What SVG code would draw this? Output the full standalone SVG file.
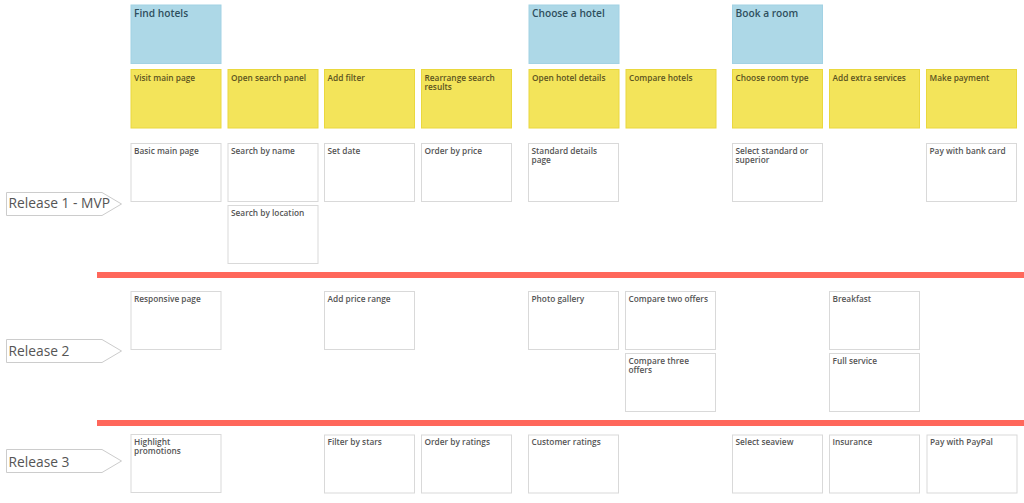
<svg xmlns="http://www.w3.org/2000/svg" width="1024" height="503" viewBox="0 0 1024 503">
<style>
.card{stroke-width:1}
.blue{fill:#add8e7;stroke:#a2d2e4}
.yellow{fill:#f3e45a;stroke:#ead83e}
.white{fill:#ffffff;stroke:#d9d9d9}
text{font-family:"Open Sans","Noto Sans","Liberation Sans",sans-serif}
.tb{font-size:10.2px;font-weight:600;fill:#2f4f5e}
.ty{font-size:8.3px;font-weight:600;fill:#5b5321}
.tw{font-size:8.3px;font-weight:600;fill:#555555}
.rel{fill:#ffffff;stroke:#cccccc;stroke-width:1}
.tr{font-size:13.8px;fill:#555555}
.sep{fill:#ff675b}
</style>
<rect width="1024" height="503" fill="#ffffff"/>
<g id="separators">
<rect class="sep" x="97" y="272" width="927" height="6"/>
<rect class="sep" x="97" y="420" width="927" height="6"/>
</g>
<g id="release1"><polygon class="rel" points="6.5,192.5 102,192.5 121.5,204 102,215.5 6.5,215.5"/><text class="tr" x="8.5" y="208">Release 1 - MVP</text></g>
<g id="release2"><polygon class="rel" points="6.5,339.5 102,339.5 121.5,351 102,362.5 6.5,362.5"/><text class="tr" x="8.5" y="356">Release 2</text></g>
<g id="release3"><polygon class="rel" points="6.5,449.5 102,449.5 121.5,461 102,472.5 6.5,472.5"/><text class="tr" x="8.5" y="466.5">Release 3</text></g>

<g id="find-hotels"><rect class="card blue" x="131" y="5" width="90" height="58.5"/><text class="tb" x="134" y="17">Find hotels</text></g>
<g id="choose-hotel"><rect class="card blue" x="529" y="5" width="90" height="58.5"/><text class="tb" x="532" y="17">Choose a hotel</text></g>
<g id="book-room"><rect class="card blue" x="732.5" y="5" width="90" height="58.5"/><text class="tb" x="735.5" y="17">Book a room</text></g>

<g id="visit-main-page"><rect class="card yellow" x="131" y="69.5" width="90" height="58.5"/><text class="ty" x="134" y="80.5">Visit main page</text></g>
<g id="open-search-panel"><rect class="card yellow" x="228" y="69.5" width="90" height="58.5"/><text class="ty" x="231" y="80.5">Open search panel</text></g>
<g id="add-filter"><rect class="card yellow" x="324.5" y="69.5" width="90" height="58.5"/><text class="ty" x="327.5" y="80.5">Add filter</text></g>
<g id="rearrange"><rect class="card yellow" x="421.5" y="69.5" width="90" height="58.5"/><text class="ty" x="424.5" y="80.5">Rearrange search</text><text class="ty" x="424.5" y="90">results</text></g>
<g id="open-hotel-details"><rect class="card yellow" x="529" y="69.5" width="90" height="58.5"/><text class="ty" x="532" y="80.5">Open hotel details</text></g>
<g id="compare-hotels"><rect class="card yellow" x="626" y="69.5" width="90" height="58.5"/><text class="ty" x="629" y="80.5">Compare hotels</text></g>
<g id="choose-room-type"><rect class="card yellow" x="732.5" y="69.5" width="90" height="58.5"/><text class="ty" x="735.5" y="80.5">Choose room type</text></g>
<g id="add-extra-services"><rect class="card yellow" x="829.5" y="69.5" width="90" height="58.5"/><text class="ty" x="832.5" y="80.5">Add extra services</text></g>
<g id="make-payment"><rect class="card yellow" x="926.5" y="69.5" width="90" height="58.5"/><text class="ty" x="929.5" y="80.5">Make payment</text></g>

<g id="basic-main-page"><rect class="card white" x="131" y="143.5" width="90" height="58"/><text class="tw" x="134" y="153.5">Basic main page</text></g>
<g id="search-by-name"><rect class="card white" x="228" y="143.5" width="90" height="58"/><text class="tw" x="231" y="153.5">Search by name</text></g>
<g id="search-by-location"><rect class="card white" x="228" y="205.5" width="90" height="58"/><text class="tw" x="231" y="215.5">Search by location</text></g>
<g id="set-date"><rect class="card white" x="324.5" y="143.5" width="90" height="58"/><text class="tw" x="327.5" y="153.5">Set date</text></g>
<g id="order-by-price"><rect class="card white" x="421.5" y="143.5" width="90" height="58"/><text class="tw" x="424.5" y="153.5">Order by price</text></g>
<g id="standard-details-page"><rect class="card white" x="528.5" y="143.5" width="90" height="58"/><text class="tw" x="531.5" y="153.5">Standard details</text><text class="tw" x="531.5" y="163">page</text></g>
<g id="select-standard"><rect class="card white" x="732.5" y="143.5" width="90" height="58"/><text class="tw" x="735.5" y="153.5">Select standard or</text><text class="tw" x="735.5" y="163">superior</text></g>
<g id="pay-bank-card"><rect class="card white" x="926.5" y="143.5" width="90" height="58"/><text class="tw" x="929.5" y="153.5">Pay with bank card</text></g>

<g id="responsive-page"><rect class="card white" x="131" y="291.5" width="90" height="58"/><text class="tw" x="134" y="301.5">Responsive page</text></g>
<g id="add-price-range"><rect class="card white" x="324.5" y="291.5" width="90" height="58"/><text class="tw" x="327.5" y="301.5">Add price range</text></g>
<g id="photo-gallery"><rect class="card white" x="528.5" y="291.5" width="90" height="58"/><text class="tw" x="531.5" y="301.5">Photo gallery</text></g>
<g id="compare-two"><rect class="card white" x="625.5" y="291.5" width="90" height="58"/><text class="tw" x="628.5" y="301.5">Compare two offers</text></g>
<g id="compare-three"><rect class="card white" x="625.5" y="353.5" width="90" height="58"/><text class="tw" x="628.5" y="363.5">Compare three</text><text class="tw" x="628.5" y="373">offers</text></g>
<g id="breakfast"><rect class="card white" x="829.5" y="291.5" width="90" height="58"/><text class="tw" x="832.5" y="301.5">Breakfast</text></g>
<g id="full-service"><rect class="card white" x="829.5" y="353.5" width="90" height="58"/><text class="tw" x="832.5" y="363.5">Full service</text></g>

<g id="highlight-promotions"><rect class="card white" x="131" y="434.5" width="90" height="58"/><text class="tw" x="134" y="444.5">Highlight</text><text class="tw" x="134" y="454">promotions</text></g>
<g id="filter-by-stars"><rect class="card white" x="324.5" y="435" width="90" height="58"/><text class="tw" x="327.5" y="445">Filter by stars</text></g>
<g id="order-by-ratings"><rect class="card white" x="421.5" y="435" width="90" height="58"/><text class="tw" x="424.5" y="445">Order by ratings</text></g>
<g id="customer-ratings"><rect class="card white" x="528.5" y="435" width="90" height="58"/><text class="tw" x="531.5" y="445">Customer ratings</text></g>
<g id="select-seaview"><rect class="card white" x="732.5" y="435" width="90" height="58"/><text class="tw" x="735.5" y="445">Select seaview</text></g>
<g id="insurance"><rect class="card white" x="829.5" y="435" width="90" height="58"/><text class="tw" x="832.5" y="445">Insurance</text></g>
<g id="pay-paypal"><rect class="card white" x="927" y="435" width="90" height="58"/><text class="tw" x="930" y="445">Pay with PayPal</text></g>
</svg>
